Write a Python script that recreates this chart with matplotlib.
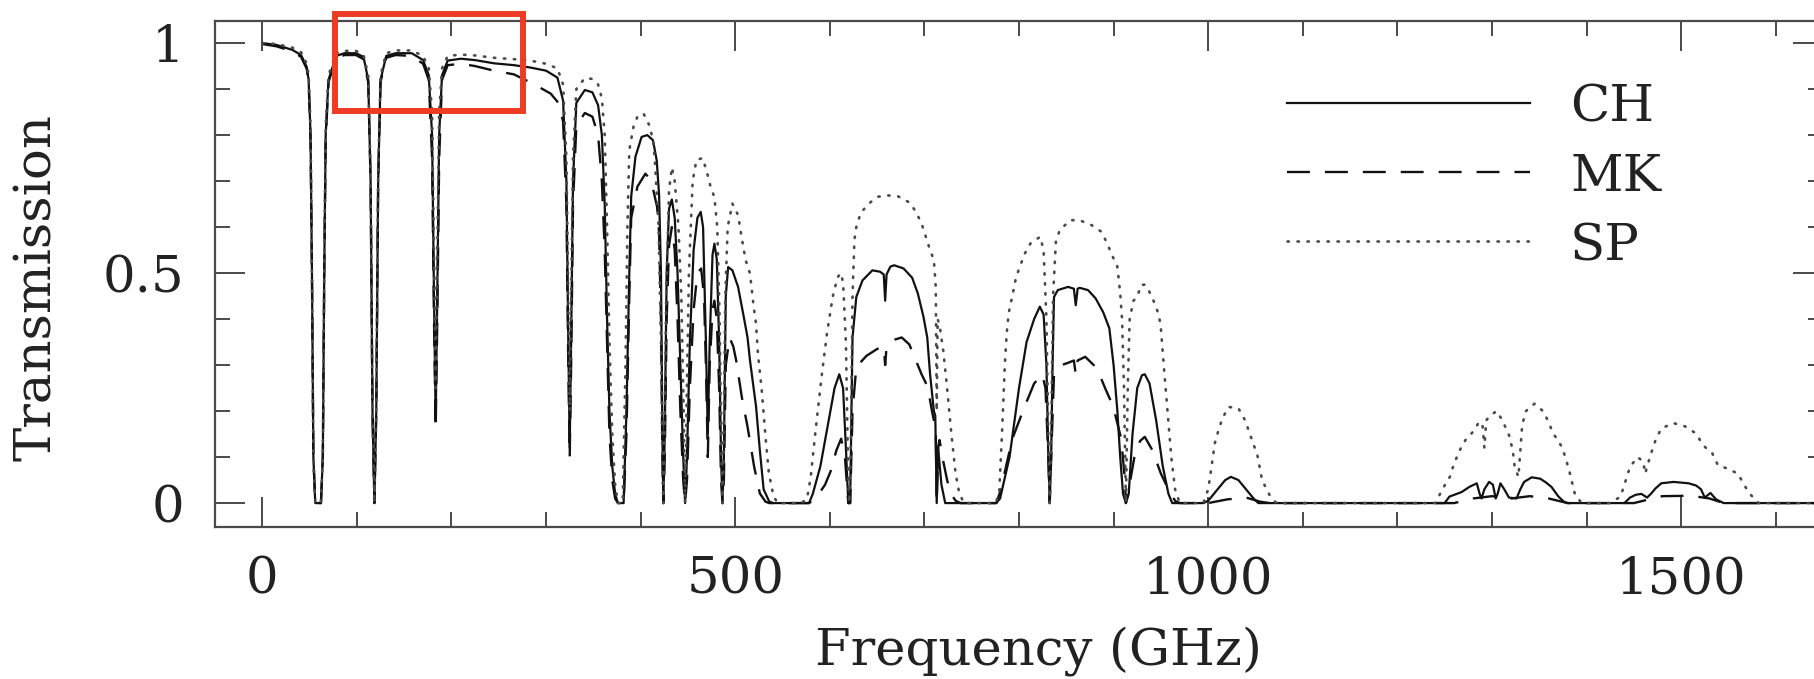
import matplotlib
matplotlib.use("Agg")
import matplotlib.pyplot as plt
from matplotlib.ticker import MultipleLocator
from matplotlib.patches import Rectangle

# Atmospheric transmission at three sites, read as (frequency GHz, transmission) vertices
ch_freq = [0, 15, 32, 41, 47, 49, 51, 52.5, 54, 56, 62, 64, 65.5, 67, 70, 78, 87, 99, 107, 112,
           114.5, 116.5, 118.5, 120.5, 122.5, 125, 131, 141, 158, 170, 176, 179.5, 181.5, 183.3, 185,
           187, 190, 196, 210, 225, 245, 266, 283, 300, 312, 318, 321.5, 323.5, 325, 326.5, 328.5,
           332, 341, 349, 355, 359, 362, 364.5, 367, 370, 373, 376, 382, 385, 388, 390, 394.5, 401,
           407, 413, 417, 419.5, 421.5, 423, 424, 425.5, 427.5, 430, 433, 436, 439, 442, 445, 447,
           449, 452, 456, 460, 463.5, 466, 469, 471, 473, 476, 478, 480.5, 483, 485, 486.5, 488, 490,
           492.5, 497, 503, 509, 513, 515.6, 522, 526, 530, 536, 540,
           578, 582, 590, 598, 605, 610, 614, 617, 619.5, 621.5, 624, 628, 634.5, 645, 653, 657,
           658.5, 660, 664, 668, 678, 687, 693, 699, 703, 706, 710, 711.5, 713, 714.5, 718, 722,
           776, 780, 790, 800, 808, 816, 822, 826, 829, 831, 832.5, 834, 835.5, 837, 841, 852, 858,
           860, 862, 864, 873, 881, 889, 895.5, 900, 904, 907, 910, 913, 916, 920, 925, 930, 933,
           938, 945, 952, 958, 962,
           995, 1000, 1010, 1018, 1024, 1032, 1040, 1048, 1053, 1250, 1255, 1268, 1276, 1284, 1287,
           1289, 1292, 1297, 1301, 1304, 1306, 1309, 1313, 1318, 1326, 1330, 1334, 1342, 1351, 1357,
           1363, 1370, 1376, 1380, 1440, 1446, 1452, 1458, 1464, 1468, 1473, 1479, 1492, 1508, 1516,
           1521, 1525, 1531, 1537, 1545, 1650]
ch_trans = [1.0, 0.996, 0.985, 0.974, 0.948, 0.92, 0.80, 0.5, 0.1, 0.0, 0.0, 0.1, 0.5, 0.8, 0.92,
            0.972, 0.978, 0.978, 0.97, 0.92, 0.7, 0.2, 0.0, 0.2, 0.7, 0.92, 0.972, 0.978, 0.978,
            0.963, 0.93, 0.8, 0.45, 0.18, 0.45, 0.8, 0.93, 0.962, 0.966, 0.963, 0.956, 0.952, 0.947,
            0.94, 0.925, 0.875, 0.7, 0.35, 0.12, 0.35, 0.7, 0.87, 0.898, 0.893, 0.865, 0.80, 0.65,
            0.4, 0.2, 0.08, 0.02, 0.0, 0.0, 0.2, 0.5, 0.666, 0.753, 0.796, 0.80, 0.789, 0.745, 0.67,
            0.5, 0.15, 0.0, 0.15, 0.5, 0.64, 0.66, 0.62, 0.5, 0.3, 0.1, 0.0, 0.1, 0.35, 0.55, 0.62,
            0.633, 0.6, 0.35, 0.15, 0.35, 0.54, 0.564, 0.53, 0.35, 0.1, 0.0, 0.1, 0.45, 0.513, 0.506,
            0.47, 0.405, 0.36, 0.31, 0.21, 0.115, 0.03, 0.003, 0.0,
            0.0, 0.02, 0.08, 0.17, 0.25, 0.28, 0.25, 0.12, 0.0, 0.0, 0.36, 0.448, 0.484, 0.506,
            0.503, 0.497, 0.44, 0.497, 0.514, 0.517, 0.51, 0.49, 0.456, 0.405, 0.36, 0.28, 0.2,
            0.19, 0.0, 0.12, 0.04, 0.0,
            0.0, 0.01, 0.1, 0.25, 0.35, 0.40, 0.427, 0.41, 0.3, 0.1, 0.0, 0.1, 0.3, 0.448, 0.463,
            0.47, 0.466, 0.43, 0.466, 0.468, 0.463, 0.445, 0.415, 0.38, 0.3, 0.2, 0.1, 0.02, 0.0,
            0.02, 0.15, 0.25, 0.278, 0.28, 0.26, 0.18, 0.08, 0.02, 0.0,
            0.0, 0.005, 0.03, 0.05, 0.057, 0.05, 0.03, 0.01, 0.0, 0.0, 0.014, 0.024, 0.035, 0.043,
            0.02, 0.01, 0.03, 0.046, 0.04, 0.01, 0.02, 0.043, 0.03, 0.012, 0.01, 0.03, 0.046, 0.056,
            0.053, 0.045, 0.035, 0.015, 0.003, 0.0, 0.0, 0.012, 0.018, 0.02, 0.012, 0.02, 0.032,
            0.043, 0.046, 0.043, 0.038, 0.03, 0.012, 0.022, 0.008, 0.0, 0.0]

mk_freq = [0, 15, 32, 41, 47, 49, 51, 52.5, 54, 56, 62, 64, 65.5, 67, 70, 78, 87, 99, 107, 112,
           114.5, 116.5, 118.5, 120.5, 122.5, 125, 131, 141, 158, 170, 176, 179.5, 181.5, 183.3, 185,
           187, 190, 196, 210, 225, 245, 266, 283, 292, 305, 313, 318, 321.5, 323.5, 325, 326.5,
           328.5, 332, 341, 349, 355, 359, 362, 364.5, 367, 370, 373, 376, 382, 385, 388, 390, 396.6,
           405, 411, 417.4, 419.5, 421.5, 423, 424, 425.5, 427.5, 430, 433, 436, 439, 442, 445, 447,
           449, 452, 456, 460, 464, 467, 469, 471, 473, 476, 478, 480.5, 483, 485, 486.5, 488, 490,
           494, 498, 501, 507, 513, 520, 526, 532, 536,
           578, 585, 595, 601, 607, 612, 616, 619.5, 621.5, 624, 628, 638.7, 650, 657, 658.5, 660,
           668, 676, 684, 691, 697, 703.4, 708, 712, 713, 714.5, 716, 720, 724, 728, 733, 738,
           776, 781, 787, 793, 806, 816, 824.5, 828, 831, 832.5, 834, 837, 845, 852, 858, 860, 862,
           870, 879, 885, 891, 899.6, 908, 912, 913, 916, 922, 928, 933, 941, 950, 958, 965, 970,
           1000, 1020, 1040, 1055, 1065, 1260, 1280, 1300, 1320, 1340, 1360, 1380, 1450, 1480, 1510,
           1530, 1545, 1650]
mk_trans = [0.998, 0.993, 0.982, 0.97, 0.944, 0.915, 0.79, 0.5, 0.1, 0.0, 0.0, 0.1, 0.5, 0.79,
            0.915, 0.968, 0.974, 0.974, 0.965, 0.915, 0.7, 0.2, 0.0, 0.2, 0.7, 0.915, 0.968, 0.974,
            0.972, 0.955, 0.92, 0.75, 0.4, 0.16, 0.4, 0.75, 0.92, 0.952, 0.955, 0.95, 0.94, 0.932,
            0.915, 0.905, 0.89, 0.87, 0.83, 0.65, 0.3, 0.1, 0.3, 0.65, 0.82, 0.848, 0.84, 0.8, 0.7,
            0.55, 0.35, 0.15, 0.05, 0.01, 0.0, 0.0, 0.15, 0.45, 0.62, 0.688, 0.716, 0.702, 0.644,
            0.586, 0.4, 0.1, 0.0, 0.1, 0.4, 0.56, 0.6, 0.55, 0.4, 0.2, 0.05, 0.0, 0.05, 0.25, 0.42,
            0.5, 0.51, 0.45, 0.3, 0.1, 0.3, 0.42, 0.44, 0.4, 0.25, 0.05, 0.0, 0.05, 0.3, 0.36, 0.34,
            0.31, 0.23, 0.166, 0.079, 0.021, 0.003, 0.0,
            0.0, 0.01, 0.04, 0.07, 0.115, 0.14, 0.1, 0.0, 0.0, 0.2, 0.296, 0.32, 0.335, 0.34, 0.3,
            0.34, 0.355, 0.36, 0.345, 0.31, 0.28, 0.253, 0.2, 0.16, 0.0, 0.12, 0.137, 0.09, 0.05,
            0.02, 0.005, 0.0,
            0.0, 0.03, 0.086, 0.14, 0.21, 0.26, 0.28, 0.25, 0.1, 0.0, 0.1, 0.28, 0.30, 0.305, 0.31,
            0.28, 0.31, 0.318, 0.30, 0.28, 0.25, 0.21, 0.14, 0.05, 0.0, 0.03, 0.1, 0.135, 0.144,
            0.115, 0.064, 0.03, 0.005, 0.0,
            0.0, 0.008, 0.012, 0.003, 0.0, 0.0, 0.01, 0.015, 0.01, 0.015, 0.01, 0.0, 0.0, 0.015,
            0.016, 0.01, 0.0, 0.0]

sp_freq = [0, 15, 32, 41, 47, 49, 51, 52.5, 54, 56, 62, 64, 65.5, 67, 70, 78, 87, 99, 107, 112,
           114.5, 116.5, 118.5, 120.5, 122.5, 125, 131, 141, 158, 170, 176, 179.5, 181.5, 183.3, 185,
           187, 190, 196, 210, 225, 245, 266, 283, 300, 312, 318, 321.5, 323.5, 325, 326.5, 328.5,
           332, 341, 349, 355, 359, 362, 364.5, 367, 370, 373, 376, 381, 384, 386, 388, 392.4, 396.6,
           403, 409, 413, 415, 419, 421.5, 423.3, 424, 425, 427, 430, 433, 436, 440, 443, 445.5, 447,
           448.5, 451, 455, 459, 465.5, 470, 474, 478, 481, 483.5, 485.5, 486.5, 487.5, 489.5, 492,
           497, 503, 507, 511, 515.6, 519.7, 522, 524, 528, 532, 535.6, 540.6, 545,
           570, 576, 580, 584, 591, 597, 603, 608, 611.6, 614, 617, 619.5, 620.5, 622, 624, 626, 628,
           632.5, 641, 651, 660, 672, 684.6, 691, 697, 701, 705.5, 710, 712, 713, 714, 716, 720, 724,
           728.5, 733, 737, 742,
           775, 779, 782, 785, 787, 789, 792, 797, 806, 812, 822.4, 826, 829, 831, 832.5, 834, 836,
           839, 843, 854, 864, 877, 887, 893.4, 897.6, 904, 907, 909, 911, 913, 915, 917, 921, 925,
           929, 933, 937, 943.5, 948, 950, 953, 957, 961, 965, 970,
           995, 1000, 1003, 1007, 1011, 1015, 1021.6, 1032, 1039, 1044, 1052, 1057, 1065, 1072,
           1240, 1249, 1255.5, 1260, 1266, 1272, 1280, 1286.6, 1290, 1292, 1294, 1298, 1305, 1311,
           1318, 1322, 1324, 1328, 1332, 1336, 1345, 1355, 1365, 1374, 1378, 1382, 1388, 1395,
           1425, 1436, 1446, 1454, 1460, 1462, 1467, 1473, 1479, 1491.6, 1504, 1516, 1523, 1533,
           1539, 1549, 1560, 1568, 1574, 1582, 1650]
sp_trans = [1.0, 0.998, 0.99, 0.98, 0.955, 0.93, 0.82, 0.5, 0.1, 0.0, 0.0, 0.1, 0.5, 0.82, 0.93,
            0.978, 0.983, 0.983, 0.975, 0.93, 0.72, 0.2, 0.0, 0.2, 0.72, 0.93, 0.978, 0.984, 0.984,
            0.972, 0.945, 0.85, 0.55, 0.25, 0.55, 0.85, 0.945, 0.972, 0.975, 0.973, 0.968, 0.965,
            0.962, 0.955, 0.945, 0.91, 0.75, 0.45, 0.2, 0.45, 0.75, 0.9, 0.924, 0.922, 0.91, 0.88,
            0.8, 0.6, 0.35, 0.15, 0.04, 0.0, 0.0, 0.3, 0.6, 0.767, 0.818, 0.84, 0.847, 0.822, 0.79,
            0.745, 0.6, 0.35, 0.05, 0.0, 0.1, 0.45, 0.68, 0.73, 0.7, 0.6, 0.45, 0.2, 0.0, 0.2, 0.5,
            0.7, 0.746, 0.75, 0.72, 0.687, 0.665, 0.6, 0.4, 0.1, 0.0, 0.1, 0.45, 0.6, 0.651, 0.626,
            0.575, 0.528, 0.499, 0.423, 0.39, 0.325, 0.246, 0.144, 0.064, 0.014, 0.0,
            0.0, 0.01, 0.06, 0.14, 0.27, 0.369, 0.448, 0.49, 0.5, 0.48, 0.35, 0.05, 0.0, 0.1, 0.45,
            0.572, 0.60, 0.63, 0.651, 0.666, 0.669, 0.667, 0.653, 0.633, 0.608, 0.582, 0.553, 0.528,
            0.47, 0.2, 0.4, 0.387, 0.33, 0.25, 0.15, 0.064, 0.02, 0.0,
            0.0, 0.02, 0.15, 0.3, 0.369, 0.412, 0.441, 0.492, 0.542, 0.564, 0.579, 0.55, 0.4, 0.15,
            0.0, 0.15, 0.45, 0.568, 0.593, 0.615, 0.615, 0.604, 0.59, 0.564, 0.542, 0.514, 0.456,
            0.398, 0.25, 0.0, 0.25, 0.4, 0.44, 0.448, 0.474, 0.475, 0.463, 0.434, 0.408, 0.38, 0.3,
            0.2, 0.1, 0.03, 0.0,
            0.0, 0.03, 0.071, 0.13, 0.159, 0.184, 0.209, 0.206, 0.18, 0.151, 0.104, 0.05, 0.017, 0.0,
            0.0, 0.035, 0.057, 0.086, 0.115, 0.137, 0.155, 0.177, 0.17, 0.12, 0.18, 0.19, 0.2, 0.18,
            0.148, 0.115, 0.079, 0.057, 0.17, 0.2, 0.216, 0.198, 0.151, 0.122, 0.097, 0.068, 0.017,
            0.0,
            0.0, 0.014, 0.079, 0.1, 0.09, 0.064, 0.1, 0.137, 0.162, 0.174, 0.167, 0.151, 0.126,
            0.108, 0.082, 0.075, 0.064, 0.035, 0.017, 0.0, 0.0]

site_labels = ["CH", "MK", "SP"]
x_ticks = [0, 500, 1000, 1500]
y_ticks = [0, 0.5, 1]
y_tick_labels = ["0", "0.5", "1"]

plt.rcParams["font.family"] = ["DejaVu Serif"]
plt.rcParams["lines.scale_dashes"] = False

W, H = 1815, 679
fig = plt.figure(figsize=(W / 100, H / 100), dpi=100)
ax = fig.add_axes([215 / W, 152 / H, 1608 / W, 506 / H])

styles = [
    dict(color="#111111", lw=1.6, linestyle="-"),
    dict(color="#111111", lw=1.7, linestyle=(0, (16.5, 10.8))),
    dict(color="#4a4a4a", lw=1.9, linestyle=(0, (1.0, 6.2)), dash_capstyle="round"),
]
series = [(ch_freq, ch_trans), (mk_freq, mk_trans), (sp_freq, sp_trans)]
for (f, t), st in zip(series, styles):
    ax.plot(f, t, solid_joinstyle="round", **st)

ax.set_xlim(-50, 1650)
ax.set_ylim(-0.052, 1.048)

spine_col = "#4a4a4a"
for s in ax.spines.values():
    s.set_color(spine_col)
    s.set_linewidth(1.6)

ax.xaxis.set_major_locator(MultipleLocator(500))
ax.xaxis.set_minor_locator(MultipleLocator(100))
ax.yaxis.set_major_locator(MultipleLocator(0.5))
ax.yaxis.set_minor_locator(MultipleLocator(0.1))
ax.set_xticks(x_ticks)
ax.set_yticks(y_ticks)
ax.set_yticklabels(y_tick_labels)
ax.tick_params(which="both", direction="in", top=True, right=True, color=spine_col,
               width=1.4, labelsize=37, labelcolor="#222222")
ax.tick_params(which="major", length=21.6)
ax.tick_params(which="minor", length=10.8)
ax.tick_params(axis="x", which="major", pad=20)
ax.tick_params(axis="y", which="major", pad=22)

ax.set_xlabel("Frequency (GHz)", fontsize=37, color="#222222")
ax.xaxis.set_label_coords(0.512, -0.2727)
ax.xaxis.label.set_va("baseline")
ax.set_ylabel("Transmission", fontsize=37, color="#222222")
ax.yaxis.set_label_coords(-0.1107, 0.474)
ax.yaxis.label.set_va("center")

# key, placed in the upper right of the plot area
key_x0, key_x1, key_text_x = 0.6667, 0.8178, 0.8427
key_rows = [0.838, 0.7016, 0.565]
for label, st, yr in zip(site_labels, styles, key_rows):
    ax.plot([key_x0, key_x1], [yr, yr], transform=ax.transAxes, **st)
    ax.text(key_text_x, yr - 19 / 506, label, transform=ax.transAxes, fontsize=37,
            va="baseline", ha="left", color="#222222")

# highlight frame around the 80-280 GHz region
ax.add_patch(Rectangle((77, 0.853), 198.6, 0.21, fill=False, edgecolor="#ee3b24",
                       lw=4.3, clip_on=False, zorder=5))

fig.savefig("out.png", dpi=100)
